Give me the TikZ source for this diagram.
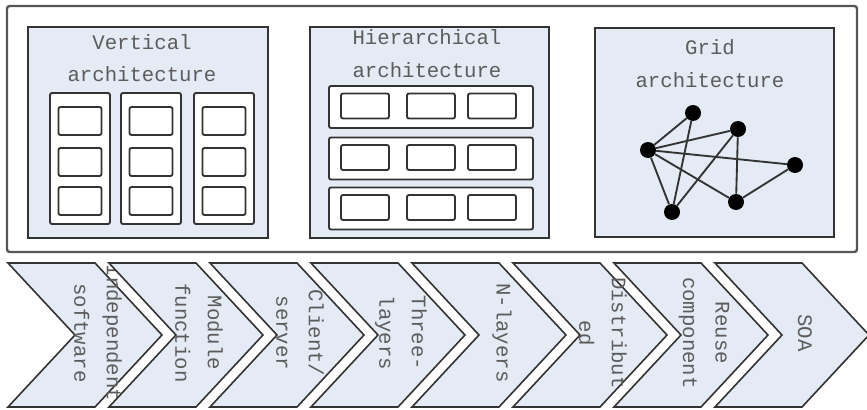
\documentclass[tikz,border=0pt]{standalone}
\usepackage{fontspec}
\setmonofont{Liberation Mono}
\usetikzlibrary{positioning}
\definecolor{ink}{HTML}{333333}
\definecolor{frameline}{HTML}{555555}
\definecolor{pale}{HTML}{E4EBF5}
\definecolor{muted}{HTML}{5C5C5C}

\begin{document}
\begin{tikzpicture}[x=0.75pt,y=-0.75pt,
    panel/.style={draw=ink,line width=1.6pt,fill=pale,inner sep=0pt},
    cell/.style={draw=ink,line width=1.4pt,fill=white,rounded corners=1.5pt,inner sep=0pt},
    chev/.style={draw=ink,line width=1.2pt,fill=pale,line join=miter},
    lab/.style={font=\ttfamily\fontsize{15.5}{24.5}\selectfont,text=muted,align=center},
    dot/.style={circle,fill=black,inner sep=0pt,minimum size=12pt},
    link/.style={draw=ink,line width=1.4pt}]
  \useasboundingbox (0,0) rectangle (867,410);
  % upper frame with the three architectures
  \node[draw=frameline,line width=1.8pt,rounded corners=2pt,inner sep=0pt,
    minimum width=637.5pt,minimum height=184.5pt] (frame) at (432,129) {};
  \node[panel,minimum width=180pt,minimum height=158.25pt] (vert) at (148,132.5) {};
  \node[panel,minimum width=179.25pt,minimum height=158.25pt] (hier) at (429.5,132.5) {};
  \node[panel,minimum width=179.25pt,minimum height=156.75pt] (grid) at (714.5,132.5) {};
  \node[lab] (verttitle) at (142,58) {Vertical\\architecture};
  \node[lab] (hiertitle) at (427,53.5) {Hierarchical\\architecture};
  \node[lab] (gridtitle) at (710,63.5) {Grid\\architecture};
  % vertical: three columns of cells
  \foreach \x [count=\c] in {80,151,224} {
    \node[cell,minimum width=45pt,minimum height=98.25pt] (col\c) at (\x,158.5) {};
    \foreach \y [count=\r] in {121,162,201}
      \node[cell,minimum width=32.25pt,minimum height=21pt] (v\c\r) at (\x,\y) {};
  }
  % hierarchical: three rows of cells
  \foreach \y [count=\r] in {107,158.5,208.5} {
    \node[cell,minimum width=153pt,minimum height=31.5pt] (row\r) at (431,\y) {};
    \foreach \x [count=\c] in {365,431,492}
      \node[cell,minimum width=36pt,minimum height=18.75pt] (h\r\c) at (\x,\y-1) {};
  }
  % grid: meshed nodes
  \foreach \p/\x/\y in {a/693/113,b/738/129,c/648/150,d/795/165,e/736/202,f/672/212}
    \node[dot] (\p) at (\x,\y) {};
  \foreach \s/\t in {a/c,a/f,b/c,b/f,b/e,c/d,c/e,c/f,d/e}
    \draw[link] (\s) -- (\t);
  % evolution chevrons
  \foreach \i/\lab in {0/{Independent\\software},1/{Module\\function},2/{Client/\\server},
      3/{Three-\\layers},4/{N-layers},5/{Distribut\\ed},6/{Reuse\\component},7/{SOA}} {
    \pgfmathsetmacro{\xo}{8+101*\i}
    \draw[chev] (\xo,263) -- ++(87,0) -- ++(67,72) -- ++(-67,72) -- ++(-87,0) -- ++(67,-72) -- cycle;
    \node[lab,rotate=-90] (stage\i) at (\xo+90,333) {\lab};
  }
\end{tikzpicture}
\end{document}
